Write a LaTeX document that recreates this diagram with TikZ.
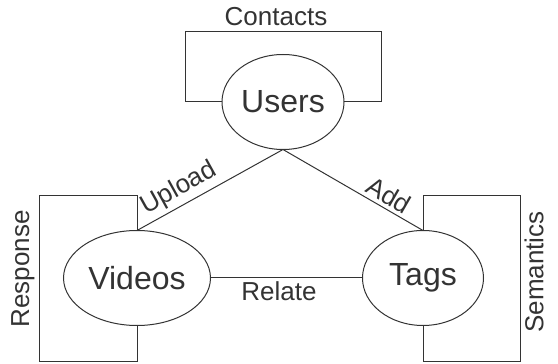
\documentclass[tikz,border=0pt]{standalone}
\usepackage{fontspec}
\setmainfont{Liberation Sans}
\usetikzlibrary{shapes.geometric,calc}
\definecolor{ink}{HTML}{333333}

\begin{document}
\begin{tikzpicture}
      [
        x=1pt, y=1pt, color=ink, line width=1pt,
        entity/.style={draw, ellipse, inner sep=0pt, outer sep=0pt,
          minimum height=95pt, font=\fontsize{32}{38}\selectfont},
        rel/.style={font=\fontsize{26}{31}\selectfont}
      ]
      \useasboundingbox (0,0) rectangle (558,364);

      \node[entity, minimum width=122pt] (users) at (283,262) {Users};
      \node[entity, minimum width=147pt] (videos) at (137,86) {Videos};
      \node[entity, minimum width=121pt] (tags) at (423,86) {Tags};

      % self loops
      \draw (users.west) -| ++(-37,70) -| ($(users.east)+(37,0)$) -- (users.east);
      \node[rel, anchor=base] (contacts) at (276,338) {Contacts};

      \draw (videos.north) -- ++(0,35) -| ($(videos.south)+(-98,-36)$) -| (videos.south);
      \node[rel, rotate=90, anchor=south, inner sep=2pt] (response) at (37,95) {Response};

      \draw (tags.north) -- ++(0,35) -| ($(tags.south)+(97,-36)$) -| (tags.south);
      \node[rel, rotate=90, anchor=north, inner sep=2pt] (semantics) at (522,92) {Semantics};

      % relations
      \draw (videos.north) -- node[rel, sloped, above, pos=.34] {Upload} (users.south);
      \draw (users.south) -- node[rel, sloped, above, pos=.71] {Add} (tags.north);
      \draw (videos.east) -- node[rel, below, pos=.45] {Relate} (tags.west);

\end{tikzpicture}
\end{document}
